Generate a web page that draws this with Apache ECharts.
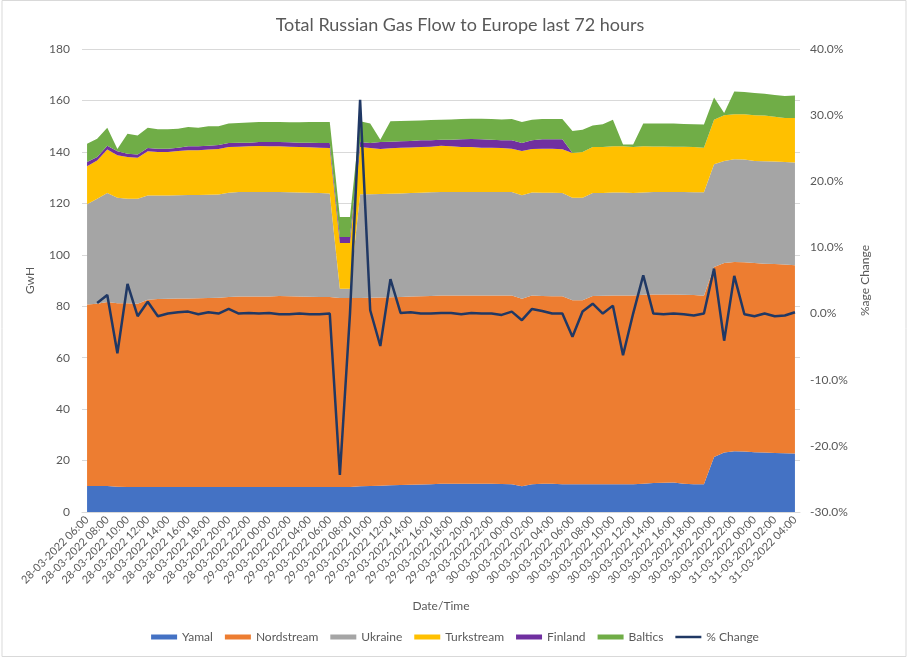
<!DOCTYPE html>
<html lang="en">
<head>
  <meta http-equiv="Content-Type" content="text/html; charset=UTF-8">
  <title>Total Russian Gas Flow to Europe</title>
  <script type="text/javascript" src="https://cdn.jsdelivr.net/npm/echarts@6/dist/echarts.min.js"></script>
  <style>
    html, body { margin: 0; padding: 0; background: #fff; }
  </style>
</head>
<body>
<div id="main" style="width: 910px;height:659px;"></div>
<script type="text/javascript">
  // hourly timestamps, 28-03-2022 06:00 .. 31-03-2022 04:00
  var hours = [
    '28-03-2022 06:00', '28-03-2022 07:00', '28-03-2022 08:00', '28-03-2022 09:00', '28-03-2022 10:00', '28-03-2022 11:00',
    '28-03-2022 12:00', '28-03-2022 13:00', '28-03-2022 14:00', '28-03-2022 15:00', '28-03-2022 16:00', '28-03-2022 17:00',
    '28-03-2022 18:00', '28-03-2022 19:00', '28-03-2022 20:00', '28-03-2022 21:00', '28-03-2022 22:00', '28-03-2022 23:00',
    '29-03-2022 00:00', '29-03-2022 01:00', '29-03-2022 02:00', '29-03-2022 03:00', '29-03-2022 04:00', '29-03-2022 05:00',
    '29-03-2022 06:00', '29-03-2022 07:00', '29-03-2022 08:00', '29-03-2022 09:00', '29-03-2022 10:00', '29-03-2022 11:00',
    '29-03-2022 12:00', '29-03-2022 13:00', '29-03-2022 14:00', '29-03-2022 15:00', '29-03-2022 16:00', '29-03-2022 17:00',
    '29-03-2022 18:00', '29-03-2022 19:00', '29-03-2022 20:00', '29-03-2022 21:00', '29-03-2022 22:00', '29-03-2022 23:00',
    '30-03-2022 00:00', '30-03-2022 01:00', '30-03-2022 02:00', '30-03-2022 03:00', '30-03-2022 04:00', '30-03-2022 05:00',
    '30-03-2022 06:00', '30-03-2022 07:00', '30-03-2022 08:00', '30-03-2022 09:00', '30-03-2022 10:00', '30-03-2022 11:00',
    '30-03-2022 12:00', '30-03-2022 13:00', '30-03-2022 14:00', '30-03-2022 15:00', '30-03-2022 16:00', '30-03-2022 17:00',
    '30-03-2022 18:00', '30-03-2022 19:00', '30-03-2022 20:00', '30-03-2022 21:00', '30-03-2022 22:00', '30-03-2022 23:00',
    '31-03-2022 00:00', '31-03-2022 01:00', '31-03-2022 02:00', '31-03-2022 03:00', '31-03-2022 04:00'
  ];

  // GWh per route
  var yamal = [
    10.1, 10.1, 10.1, 9.8, 9.7, 9.7, 9.7, 9.7, 9.7, 9.7, 9.7, 9.7, 9.7, 9.7, 9.7, 9.7, 9.7, 9.7,
    9.7, 9.7, 9.7, 9.7, 9.7, 9.7, 9.7, 9.7, 9.7, 10.0, 10.1, 10.2, 10.4, 10.5, 10.6, 10.7, 10.8, 11.0,
    11.0, 11.0, 11.0, 11.0, 11.0, 10.9, 10.8, 10.0, 10.8, 11.0, 11.0, 10.8, 10.8, 10.8, 10.8, 10.8, 10.8, 10.8,
    10.8, 11.0, 11.3, 11.4, 11.5, 11.0, 10.8, 10.8, 21.4, 23.1, 23.6, 23.5, 23.2, 23.1, 22.9, 22.8, 22.7
  ];
  var nordstream = [
    70.6, 70.9, 71.5, 71.4, 71.5, 71.3, 72.8, 73.1, 73.2, 73.3, 73.3, 73.4, 73.5, 73.6, 73.9, 74.1, 74.1, 74.1,
    74.1, 74.3, 74.2, 74.1, 74.0, 73.9, 73.9, 73.5, 73.5, 73.2, 73.2, 73.2, 73.1, 73.1, 73.2, 73.2, 73.2, 73.2,
    73.2, 73.2, 73.2, 73.2, 73.2, 73.3, 73.4, 72.9, 73.4, 73.0, 72.9, 73.1, 71.5, 71.5, 73.2, 73.3, 73.4, 73.4,
    73.4, 73.5, 73.3, 73.2, 73.1, 73.5, 73.6, 73.3, 73.8, 73.7, 73.6, 73.6, 73.6, 73.4, 73.5, 73.4, 73.2
  ];
  var ukraine = [
    38.9, 40.8, 42.4, 41.0, 40.6, 40.8, 40.5, 40.2, 40.1, 40.1, 40.2, 40.1, 40.1, 40.1, 40.5, 40.6, 40.6, 40.6,
    40.6, 40.4, 40.4, 40.4, 40.4, 40.4, 40.2, 3.6, 3.6, 40.3, 40.2, 40.2, 40.2, 40.2, 40.2, 40.2, 40.3, 40.2,
    40.2, 40.2, 40.2, 40.2, 40.2, 40.2, 40.2, 40.2, 40.0, 40.1, 40.2, 40.1, 39.9, 39.9, 40.0, 39.9, 40.0, 40.0,
    39.8, 39.7, 39.8, 39.8, 39.8, 39.9, 39.9, 40.2, 40.0, 39.7, 39.9, 39.9, 39.7, 39.9, 39.9, 39.9, 40.0
  ];
  var turkstream = [
    14.8, 14.9, 16.9, 16.5, 16.2, 15.9, 17.2, 17.0, 17.0, 17.2, 17.4, 17.4, 17.6, 17.7, 17.8, 17.6, 17.8, 17.9,
    17.8, 17.8, 17.7, 17.7, 17.7, 17.6, 17.7, 17.8, 17.8, 18.4, 18.0, 17.5, 17.7, 17.8, 17.7, 17.8, 17.7, 18.0,
    17.8, 17.5, 17.5, 17.2, 17.2, 17.1, 16.8, 17.2, 16.9, 17.1, 17.1, 17.0, 17.4, 17.8, 17.9, 17.9, 18.0, 18.0,
    17.9, 18.0, 17.7, 17.7, 17.6, 17.6, 17.6, 17.3, 17.3, 17.7, 17.5, 17.6, 17.7, 17.7, 17.4, 17.1, 17.3
  ];
  var finland = [
    1.7, 1.3, 1.5, 1.5, 1.3, 1.3, 1.3, 1.2, 1.2, 1.3, 1.6, 1.6, 1.5, 1.6, 1.6, 1.6, 1.4, 1.5,
    1.6, 1.6, 1.7, 1.7, 1.8, 1.9, 2.0, 2.3, 2.3, 1.9, 2.0, 2.7, 2.5, 2.5, 2.5, 2.6, 2.5, 2.3,
    2.5, 3.0, 3.1, 3.3, 3.1, 3.0, 3.3, 3.2, 3.4, 3.7, 3.7, 3.9, 0, 0, 0, 0, 0, 0,
    0, 0, 0, 0, 0, 0, 0, 0, 0, 0, 0, 0, 0, 0, 0, 0, 0
  ];
  var baltics = [
    7.1, 7.1, 7.0, 0.9, 7.8, 7.4, 7.9, 7.6, 7.6, 7.4, 7.5, 7.2, 7.6, 7.3, 7.5, 7.6, 7.8, 7.8,
    7.8, 7.8, 7.8, 7.9, 8.0, 8.1, 8.1, 7.8, 7.8, 8.1, 7.5, 0.9, 8.0, 7.9, 7.9, 7.7, 7.9, 7.8,
    7.9, 7.9, 7.9, 8.0, 8.1, 8.1, 8.3, 8.1, 8.0, 7.9, 7.9, 7.9, 8.5, 8.6, 8.4, 8.8, 10.3, 0.7,
    1.0, 8.8, 8.9, 8.9, 9.0, 8.8, 8.8, 9.0, 8.6, 0.9, 8.9, 8.7, 8.7, 8.5, 8.4, 8.5, 8.7
  ];
  // hour-on-hour change of the total, in percent
  var pctChange = [
    null, 1.6, 2.8, -6.0, 4.5, -0.4, 1.8, -0.4, 0.0, 0.2, 0.3, -0.1, 0.2, 0.0, 0.7, 0.0, 0.1, 0.0,
    0.1, -0.1, -0.1, 0.0, -0.1, -0.1, 0.0, -24.4, 0.0, 32.3, 0.5, -4.9, 5.2, 0.1, 0.2, 0.0, 0.0, 0.1,
    0.1, -0.1, 0.1, 0.0, 0.0, -0.2, 0.3, -1.0, 0.7, 0.4, 0.0, 0.0, -3.5, 0.3, 1.5, 0.0, 1.2, -6.3,
    0.0, 5.8, 0.0, -0.1, 0.0, -0.1, -0.3, 0.0, 6.8, -4.1, 5.7, -0.1, -0.4, 0.0, -0.4, -0.3, 0.2
  ];

  var textColor = '#595959';
  var gridColor = '#D9D9D9';
  var font = 'Lato, "Open Sans", sans-serif';

  function areaSeries(name, data, color) {
    return {
      name: name,
      type: 'line',
      stack: 'flow',
      data: data,
      symbol: 'none',
      lineStyle: { width: 0 },
      areaStyle: { color: color, opacity: 1 },
      itemStyle: { color: color },
      emphasis: { disabled: true }
    };
  }

  var myChart = echarts.init(document.getElementById('main'));
  myChart.setOption({
    animation: false,
    textStyle: { fontFamily: font },
    title: {
      text: 'Total Russian Gas Flow to Europe last 72 hours',
      left: 455,
      textAlign: 'center',
      top: 11,
      textStyle: { color: textColor, fontSize: 18, fontWeight: 'normal', fontFamily: font }
    },
    legend: {
      bottom: 11,
      left: 'center',
      itemWidth: 26,
      itemHeight: 5,
      itemGap: 12,
      textStyle: { color: textColor, fontSize: 12, fontFamily: font },
      data: [
        { name: 'Yamal', icon: 'rect' },
        { name: 'Nordstream', icon: 'rect' },
        { name: 'Ukraine', icon: 'rect' },
        { name: 'Turkstream', icon: 'rect' },
        { name: 'Finland', icon: 'rect' },
        { name: 'Baltics', icon: 'rect' },
        { name: '% Change', icon: 'path://M0,0 L26,0 L26,2.5 L0,2.5 Z' }
      ]
    },
    grid: { left: 82, right: 110, top: 49, bottom: 147 },
    xAxis: {
      type: 'category',
      data: hours,
      boundaryGap: true,
      name: 'Date/Time',
      nameLocation: 'middle',
      nameGap: 88,
      nameTextStyle: { color: textColor, fontSize: 12 },
      axisLine: { lineStyle: { color: gridColor } },
      axisTick: { interval: 0, length: 4, lineStyle: { color: gridColor } },
      axisLabel: { interval: 1, rotate: 45, color: textColor, fontSize: 11, margin: 6 }
    },
    yAxis: [
      {
        type: 'value',
        min: 0,
        max: 180,
        interval: 20,
        name: 'GwH',
        nameLocation: 'middle',
        nameRotate: 90,
        nameGap: 46,
        nameTextStyle: { color: textColor, fontSize: 12 },
        axisLine: { show: false },
        axisTick: { show: false },
        axisLabel: { color: textColor, fontSize: 12, margin: 12 },
        splitLine: { lineStyle: { color: gridColor } }
      },
      {
        type: 'value',
        min: -30,
        max: 40,
        interval: 10,
        name: '%age Change',
        nameLocation: 'middle',
        nameRotate: 90,
        nameGap: 56,
        nameTextStyle: { color: textColor, fontSize: 12 },
        axisLine: { show: false },
        axisTick: { show: false },
        splitLine: { show: false },
        axisLabel: {
          color: textColor,
          fontSize: 12,
          margin: 10,
          formatter: function (v) { return v.toFixed(1) + '%'; }
        }
      }
    ],
    graphic: [{
      type: 'rect',
      shape: { x: 2, y: 0.5, width: 904, height: 656 },
      style: { fill: 'none', stroke: gridColor, lineWidth: 1 },
      silent: true
    }],
    series: [
      areaSeries('Yamal', yamal, '#4472C4'),
      areaSeries('Nordstream', nordstream, '#ED7D31'),
      areaSeries('Ukraine', ukraine, '#A5A5A5'),
      areaSeries('Turkstream', turkstream, '#FFC000'),
      areaSeries('Finland', finland, '#7030A0'),
      areaSeries('Baltics', baltics, '#70AD47'),
      {
        name: '% Change',
        type: 'line',
        yAxisIndex: 1,
        data: pctChange,
        symbol: 'none',
        connectNulls: false,
        lineStyle: { color: '#203864', width: 2.5 },
        itemStyle: { color: '#203864' },
        emphasis: { disabled: true },
        z: 5
      }
    ]
  });
</script>
</body>
</html>
